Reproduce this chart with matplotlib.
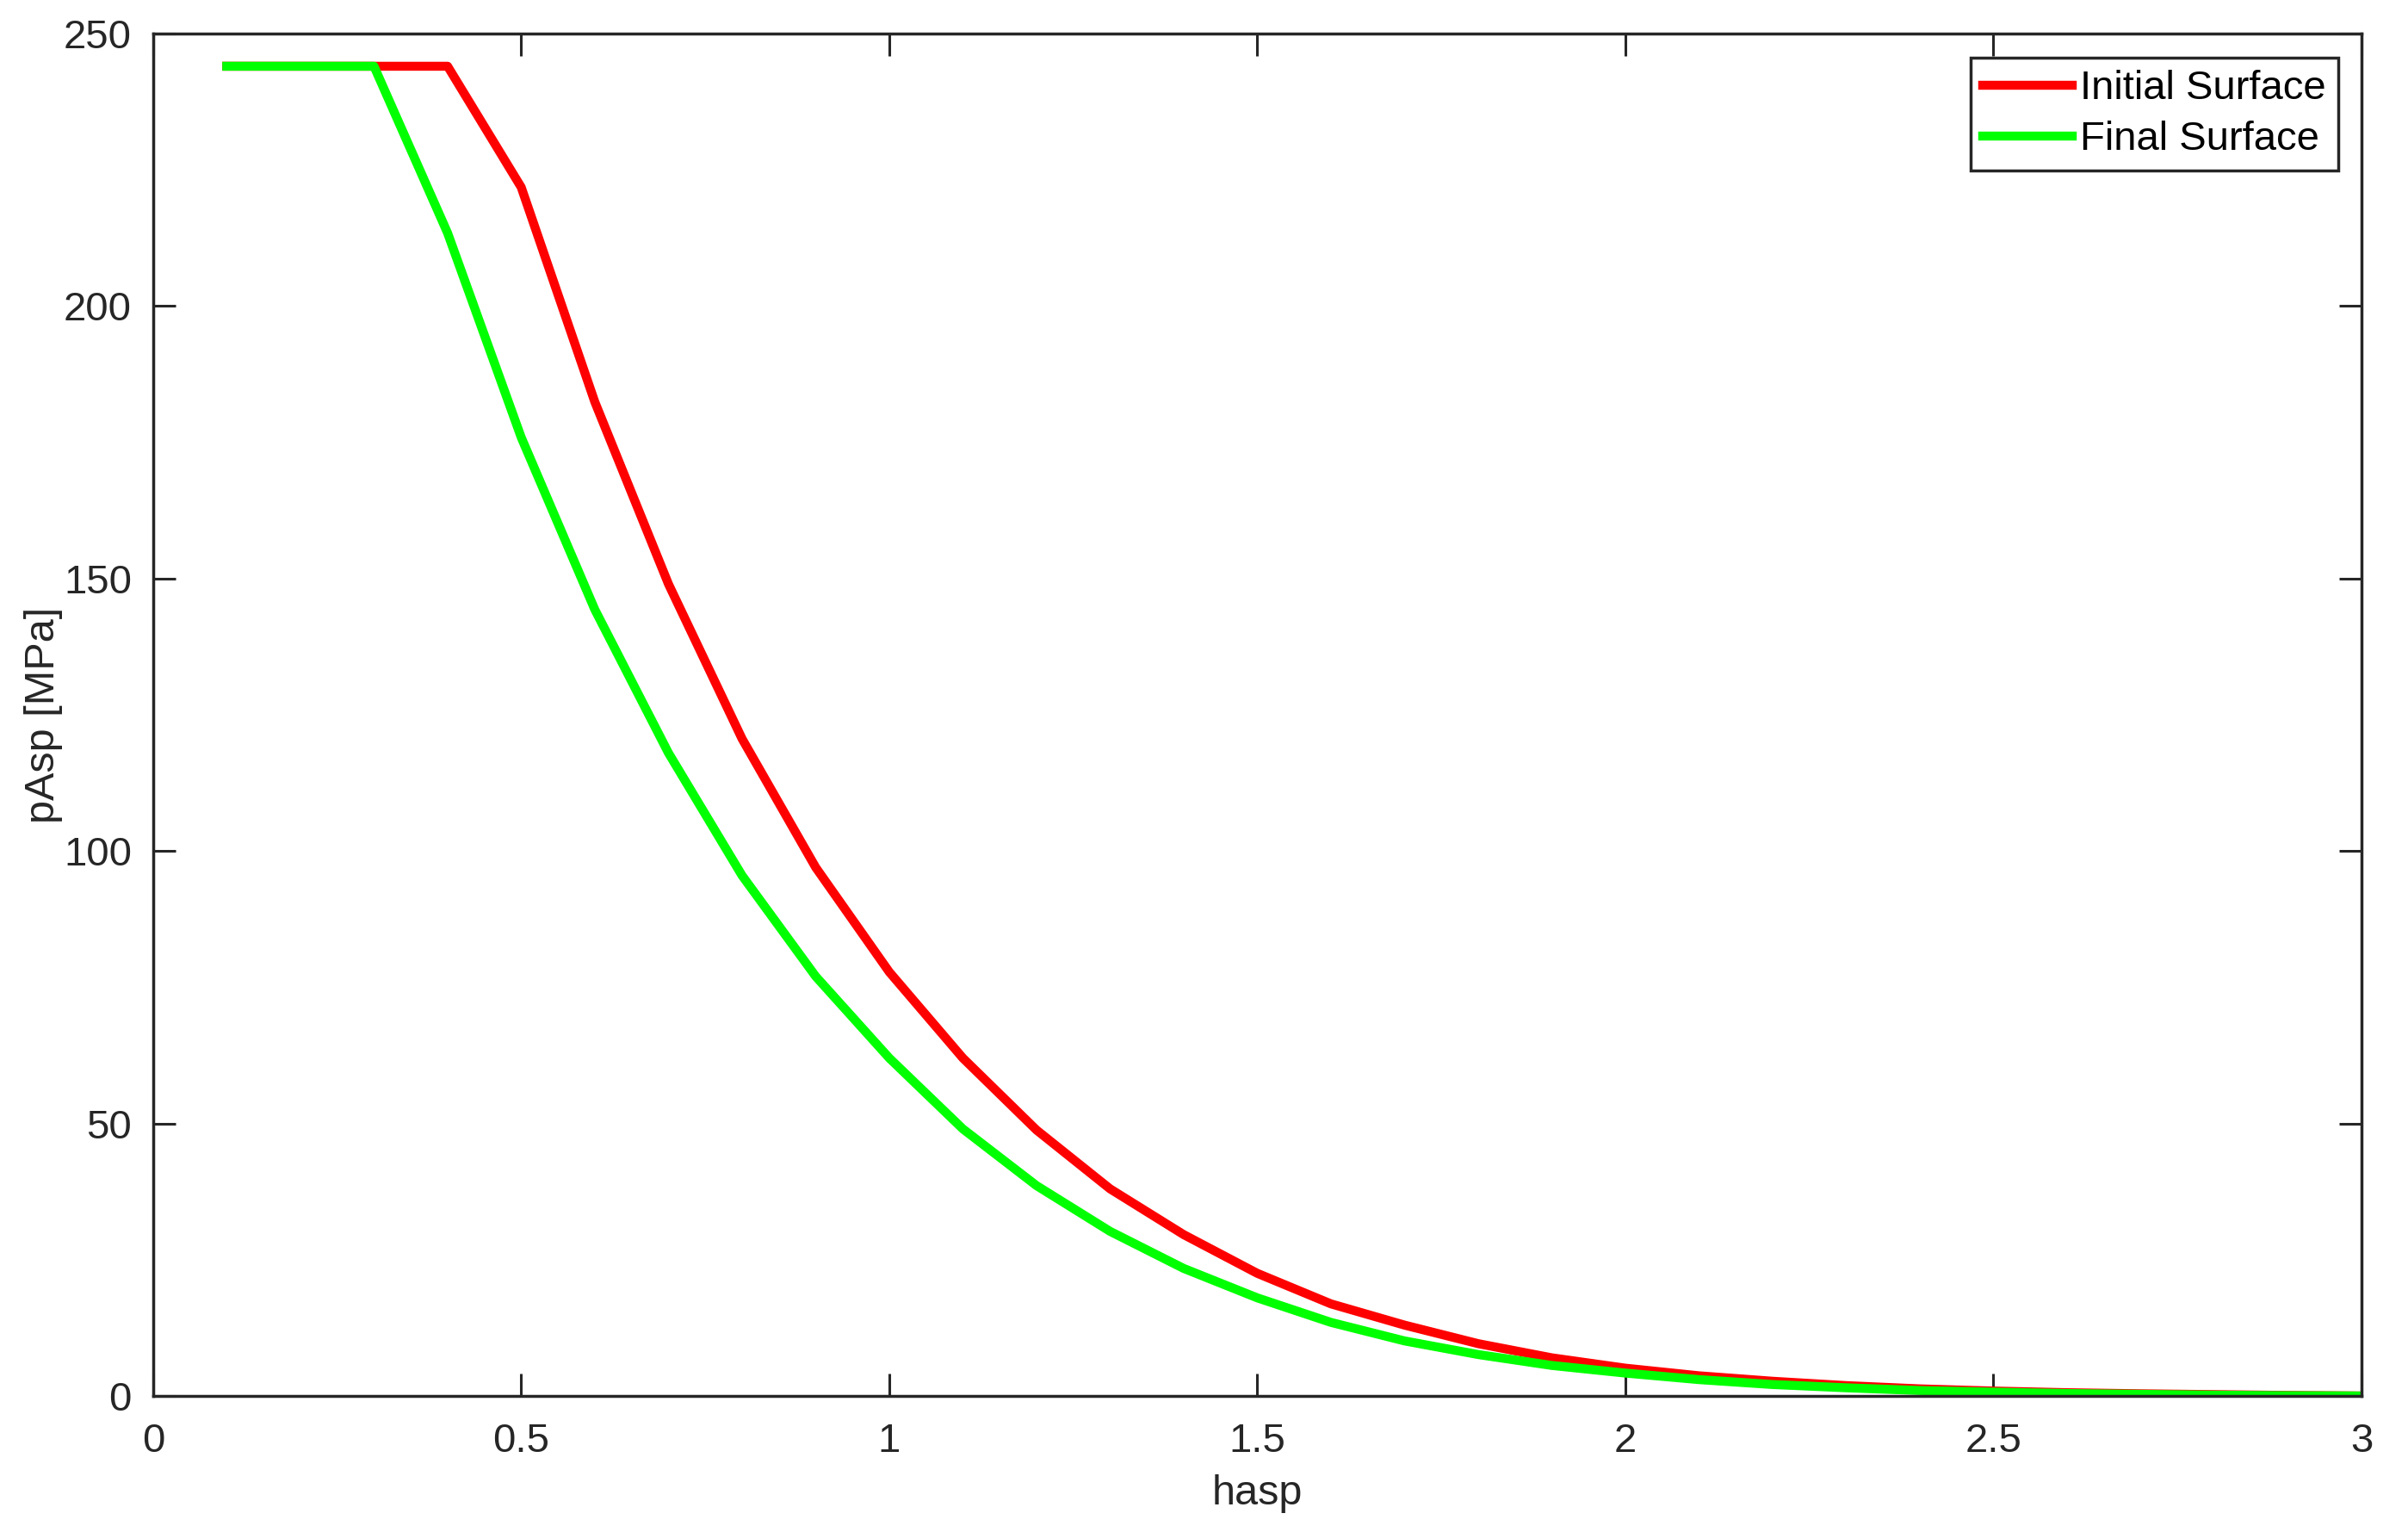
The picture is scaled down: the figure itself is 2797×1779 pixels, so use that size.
"""Asperity pressure vs asperity height, initial vs final surface."""

import matplotlib

matplotlib.use("Agg")
import matplotlib.pyplot as plt

plt.rcParams["font.family"] = ["Liberation Sans", "DejaVu Sans"]

# Asperity height samples (shared by both curves).
hasp = [0.1, 0.2, 0.3, 0.4, 0.5, 0.6, 0.7, 0.8, 0.9, 1.0,
        1.1, 1.2, 1.3, 1.4, 1.5, 1.6, 1.7, 1.8, 1.9, 2.0,
        2.1, 2.2, 2.3, 2.4, 2.5, 2.6, 2.7, 2.8, 2.9, 3.0]

# Pressure, MPa.
p_initial = [244, 244, 244, 244, 221.8, 182.4, 149, 120.6, 97, 77.8,
             62, 48.8, 38, 29.6, 22.5, 16.9, 13, 9.6, 7, 5.1,
             3.7, 2.7, 1.9, 1.3, 0.9, 0.6, 0.4, 0.25, 0.1, 0.0]
p_final = [244, 244, 244, 213.4, 175.9, 144.3, 118, 95.5, 77, 62,
           49, 38.6, 30.2, 23.4, 18, 13.5, 10.1, 7.6, 5.6, 4.2,
           3.0, 2.1, 1.5, 1.0, 0.7, 0.45, 0.3, 0.15, 0.05, 0.0]

labels = ["Initial Surface", "Final Surface"]
AX_COL = "#262626"

fig = plt.figure(figsize=(27.97, 17.79), dpi=100)
ax = fig.add_axes([0.0636, 0.0888, 0.9171, 0.8893])

ax.plot(hasp, p_initial, color="#ff0000", linewidth=7.5, label=labels[0])
ax.plot(hasp, p_final, color="#00ff00", linewidth=7.5, label=labels[1])

ax.set_xlim(0, 3)
ax.set_ylim(0, 250)
ax.set_xticks([0, 0.5, 1, 1.5, 2, 2.5, 3])
ax.set_xticklabels(["0", "0.5", "1", "1.5", "2", "2.5", "3"])
ax.set_yticks([0, 50, 100, 150, 200, 250])

# MATLAB-like box: ticks inside on all four sides.
for s in ax.spines.values():
    s.set_linewidth(2.5)
    s.set_color(AX_COL)
ax.tick_params(direction="in", top=True, right=True, length=19, width=2.2,
               color=AX_COL, labelcolor=AX_COL, labelsize=34)
ax.tick_params(axis="x", pad=22)
ax.tick_params(axis="y", pad=18)

ax.set_xlabel("hasp", fontsize=35, color=AX_COL, labelpad=12)
ax.set_ylabel("pAsp [MPa]", fontsize=35, color=AX_COL, labelpad=1)

leg = ax.legend(loc="upper right", bbox_to_anchor=(0.9895, 0.9823),
                borderaxespad=0, fontsize=34, handlelength=2.2,
                handletextpad=0.2, borderpad=0.3, labelspacing=0.32,
                fancybox=False, framealpha=1)
leg.get_frame().set_edgecolor(AX_COL)
leg.get_frame().set_linewidth(2.5)

fig.savefig("out.png", dpi=100)
